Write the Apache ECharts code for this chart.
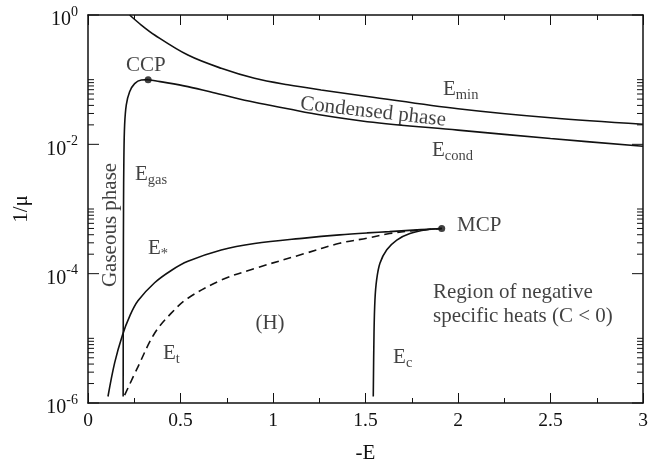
<!DOCTYPE html>
<html><head><meta charset="utf-8">
<script src="https://cdn.jsdelivr.net/npm/echarts@6/dist/echarts.min.js"></script>
<style>html,body{margin:0;padding:0;background:#fff}#c{width:662px;height:461px}</style>
</head><body><div id="c"></div>
<script>
// ---- data ----
const gasX = [0.190, 0.191, 0.192, 0.194, 0.198, 0.207, 0.225, 0.252, 0.288, 0.325];
const gasY = [1.26e-6, 1e-4, 1e-3, 6.3e-3, 2.0e-2, 4.07e-2, 6.5e-2, 8.7e-2, 9.9e-2, 1.0e-1];

const condX = [0.325, 0.39, 0.54, 0.72, 0.90, 1.08, 1.26, 1.51, 2.0, 2.5, 3.0];
const condY = [0.1, 0.0933, 0.078, 0.0589, 0.0447, 0.0355, 0.0284, 0.0224, 0.0166, 0.0123, 0.00933];

const minX = [0.225, 0.288, 0.36, 0.54, 0.72, 0.90, 1.08, 1.26, 1.51, 2.0, 2.5, 3.0];
const minY = [1.0, 0.70, 0.491, 0.240, 0.150, 0.105, 0.0832, 0.0692, 0.0550, 0.0355, 0.0257, 0.0204];

const starX = [0.108, 0.144, 0.186, 0.225, 0.27, 0.36, 0.45, 0.54, 0.72, 0.90, 1.17, 1.36, 1.51, 1.63, 1.80, 1.912];
const starY = [1.26e-6, 4.17e-6, 1.12e-5, 2.19e-5, 3.80e-5, 7.24e-5, 1.12e-4, 1.55e-4, 2.32e-4, 2.92e-4, 3.55e-4, 3.98e-4, 4.27e-4, 4.47e-4, 4.79e-4, 5.0e-4];

const tX = [0.198, 0.27, 0.36, 0.45, 0.54, 0.72, 0.90, 1.17, 1.36, 1.51, 1.63, 1.76, 1.912];
const tY = [1.32e-6, 3.63e-6, 1.20e-5, 2.45e-5, 4.17e-5, 7.94e-5, 1.20e-4, 2.04e-4, 2.95e-4, 3.55e-4, 4.17e-4, 4.62e-4, 5.0e-4];

const cX = [1.542, 1.546, 1.551, 1.56, 1.578, 1.615, 1.669, 1.74, 1.83, 1.912];
const cY = [1.26e-6, 1.20e-5, 3.89e-5, 7.94e-5, 1.45e-4, 2.34e-4, 3.31e-4, 4.17e-4, 4.79e-4, 5.0e-4];

const critNames = ['CCP', 'MCP'];
const critX = [0.325, 1.912];
const critY = [0.1, 5.0e-4];

const xTickLabels = ['0', '0.5', '1', '1.5', '2', '2.5', '3'];
const yMajorTicks = [1e-6, 1e-4, 1e-2, 1];
const yMinorMultipliers = [2, 3, 4, 5, 6, 7, 8, 9, 10];

// annotation texts (rich markup) and their anchor points in data space
const annText = [
  'CCP', 'MCP',
  '{E|E}{s|min}', '{E|E}{s|cond}', '{E|E}{s|gas}', '{E|E}{s|*}', '{E|E}{s|t}', '{E|E}{s|c}',
  '(H)', 'Region of negative\nspecific heats (C < 0)', 'Condensed phase', 'Gaseous phase'
];
const annX = [0.313, 1.995, 1.919, 1.859, 0.254, 0.324, 0.405, 1.649, 0.984, 1.865, 1.541, 0.119];
const annY = [0.1656, 5.5e-4, 0.0705, 8.05e-3, 3.42e-3, 2.47e-4, 5.9e-6, 5.1e-6, 1.70e-5, 3.34e-5, 0.0316, 5.66e-4];

// ---- chart ----
const FONT = 'Liberation Serif';
const INK = '#111';
const X_MIN = 0, X_MAX = 3;

function pairs(xs, ys) { return xs.map((x, i) => [x, ys[i]]); }

const tickData = [];
yMajorTicks.forEach(v => { tickData.push([X_MIN, v, 11, 1]); tickData.push([X_MAX, v, 11, -1]); });
yMajorTicks.slice(0, -1).forEach(v => {
  yMinorMultipliers.forEach(m => {
    tickData.push([X_MIN, v * m, 6, 1]);
    tickData.push([X_MAX, v * m, 6, -1]);
  });
});

const subRich = {
  E: { fontFamily: FONT, fontSize: 21, color: INK },
  s: { fontFamily: FONT, fontSize: 14.5, color: INK, padding: [12, 0, 0, 0] }
};

const leftAligned = { 1: 1, 2: 1, 3: 1, 4: 1, 5: 1, 6: 1, 7: 1, 9: 1 };
const annData = annText.map((t, i) => {
  const item = { value: [annX[i], annY[i]], label: { formatter: t } };
  if (leftAligned[i]) { item.label.position = 'right'; item.label.distance = 0; }
  else { item.label.position = 'inside'; }
  if (i === 10) item.label.rotate = -6.5;
  if (i === 11) item.label.rotate = 90;
  if (i === 9) { item.label.align = 'left'; item.label.lineHeight = 24; }
  return item;
});

function lineSeries(name, xs, ys, dashed) {
  return {
    name: name, type: 'line', data: pairs(xs, ys), showSymbol: false, symbol: 'none',
    smooth: 0.35, clip: true, z: 3,
    lineStyle: { color: INK, width: 1.6, type: dashed ? [8, 5] : 'solid' }
  };
}

const chart = echarts.init(document.getElementById('c'), null, { renderer: 'canvas' });
chart.setOption({
  animation: false,
  backgroundColor: '#fff',
  grid: { left: 88, right: 19, top: 15, bottom: 58, containLabel: false, outerBoundsMode: 'none' },
  xAxis: [{
    type: 'value', min: X_MIN, max: X_MAX, interval: 0.5, position: 'bottom',
    name: '-E', nameLocation: 'middle', nameGap: 40,
    nameTextStyle: { fontFamily: FONT, fontSize: 21, color: INK },
    axisLine: { show: true, onZero: false, lineStyle: { color: INK, width: 1.5 } },
    axisTick: { show: true, inside: true, length: 10, lineStyle: { color: INK, width: 1 } },
    minorTick: { show: true, splitNumber: 2, length: 5, lineStyle: { color: INK, width: 1 } },
    axisLabel: { margin: 8, fontFamily: FONT, fontSize: 19.5, color: INK,
      formatter: function (v) { return xTickLabels[Math.round(v / 0.5)]; } },
    splitLine: { show: false }
  }, {
    type: 'value', min: X_MIN, max: X_MAX, interval: 0.5, position: 'top',
    axisLine: { show: true, onZero: false, lineStyle: { color: INK, width: 1.5 } },
    axisTick: { show: true, inside: true, length: 10, lineStyle: { color: INK, width: 1 } },
    minorTick: { show: true, splitNumber: 2, length: 5, lineStyle: { color: INK, width: 1 } },
    axisLabel: { show: false }, splitLine: { show: false }
  }],
  yAxis: [{
    type: 'log', logBase: 10, min: 1e-6, max: 1, position: 'left',
    name: '1/\u03bc', nameLocation: 'middle', nameGap: 56, nameRotate: 90,
    nameTextStyle: { fontFamily: FONT, fontSize: 21, color: INK },
    axisLine: { show: true, onZero: false, lineStyle: { color: INK, width: 1.5 } },
    axisTick: { show: false },
    axisLabel: {
      margin: 10, color: INK,
      formatter: function (v) {
        const e = Math.round(Math.log10(v));
        if (e % 2 !== 0) return '';
        return '{b|10}{s|' + e + '}';
      },
      rich: {
        b: { fontFamily: FONT, fontSize: 20, color: INK, padding: [10, 0, 0, 0] },
        s: { fontFamily: FONT, fontSize: 14, color: INK, padding: [0, 0, 6, 0] }
      }
    },
    splitLine: { show: false }
  }, {
    type: 'log', logBase: 10, min: 1e-6, max: 1, position: 'right',
    axisLine: { show: true, onZero: false, lineStyle: { color: INK, width: 1.5 } },
    axisTick: { show: false }, axisLabel: { show: false }, splitLine: { show: false }
  }],
  series: [
    lineSeries('Egas', gasX, gasY, false),
    lineSeries('Econd', condX, condY, false),
    lineSeries('Emin', minX, minY, false),
    lineSeries('Estar', starX, starY, false),
    lineSeries('Et', tX, tY, true),
    lineSeries('Ec', cX, cY, false),
    {
      name: 'critical', type: 'scatter', data: pairs(critX, critY), symbol: 'circle', symbolSize: 7,
      itemStyle: { color: INK }, z: 5
    },
    {
      name: 'yticks', type: 'custom', data: tickData, clip: false, z: 6,
      encode: { x: 0, y: 1 },
      renderItem: function (params, api) {
        const p = api.coord([api.value(0), api.value(1)]);
        const len = api.value(2), dir = api.value(3);
        return { type: 'line', shape: { x1: p[0], y1: p[1], x2: p[0] + dir * len, y2: p[1] },
          style: { stroke: INK, lineWidth: 1 } };
      }
    },
    {
      name: 'annotations', type: 'scatter', data: annData, symbolSize: 0, z: 7, silent: true,
      label: { show: true, fontFamily: FONT, fontSize: 21, color: INK, rich: subRich }
    }
  ]
});
</script>
</body></html>
